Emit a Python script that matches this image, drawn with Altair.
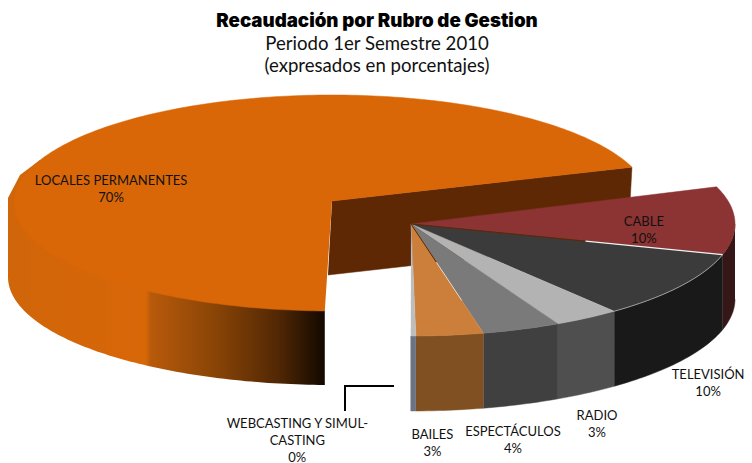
import math
import altair as alt
import pandas as pd

# ---- values (share of the pie, per cent) ----
CATEGORIES = ["LOCALES PERMANENTES", "CABLE", "TELEVISIÓN", "RADIO", "ESPECTÁCULOS", "BAILES", "WEBCASTING Y SIMUL-\nCASTING"]
VALUES = [69.25, 9.8, 9.8, 3.3, 3.9, 3.35, 0.25]
SHOWN = ["70%", "10%", "10%", "3%", "4%", "3%", "0%"]

# ---- styles ----
TOP_COLORS = ["#D96607", "#8C3333", "#3B3B3B", "#B3B3B3", "#7A7A7A", "#CC7F3A", "#BDBDBD"]
WALL_COLORS = [None, "#351717", "#191919", "#4F4F4F", "#404040", "#815022", "#6B7483"]
INNER_WALL = "#5F2805"
EDGE_DARK = "#5F2805"
EDGE_LIGHT = "#F2F2F2"
FONT = "Lato"

# ---- 3-D layout of the pie, in page pixels ----
START = -19.4
DEG = 3.6
ORANGE = dict(cx=332, cy=203, rx=318, ry=108)
ORANGE_BOTTOM = dict(cx=332, cy=277, rx=324, ry=108)
GROUP = dict(cx=411, cy=224, rx=324, ry=112)
DEPTH = 75
LINE = 17
LABEL_SHIFT = [(36.5, 50), (-91, 9.9), (27, 98), (10, 106), (-8.5, 111), (-17.5, 108.5), (-116, 105)]

def rim(e, t, dy=0):
    r = math.radians(t)
    return (e["cx"] + e["rx"] * math.cos(r), e["cy"] + e["ry"] * math.sin(r) + dy)

def arc(e, t0, t1, dy=0):
    n = max(2, int(abs(t1 - t0)) + 1)
    return [rim(e, t0 + (t1 - t0) * i / (n - 1), dy) for i in range(n)]

X = alt.X("x:Q", scale=alt.Scale(domain=[8, 744], nice=False, zero=False), axis=None)
Y = alt.Y("y:Q", scale=alt.Scale(domain=[463, 88], nice=False, zero=False), axis=None)

def frame(points):
    return pd.DataFrame({"x": [p[0] for p in points], "y": [p[1] for p in points], "i": range(len(points))})

def poly(points, fill, **kw):
    kw.setdefault("stroke", fill if isinstance(fill, str) else None)
    kw.setdefault("strokeWidth", 0.5)
    if kw["stroke"] is None:
        kw.pop("stroke")
        kw["strokeWidth"] = 0
    return alt.Chart(frame(points)).mark_line(fill=fill, interpolate="linear", **kw).encode(
        x=X, y=Y, order=alt.Order("i:Q"))

def edge(points, color, width):
    return alt.Chart(frame(points)).mark_line(color=color, strokeWidth=width, interpolate="linear").encode(
        x=X, y=Y, order=alt.Order("i:Q"))

def along(a, b, f0, f1):
    return [(a[0] + (b[0] - a[0]) * f, a[1] + (b[1] - a[1]) * f) for f in (f0, f1)]

# slice angles
sweeps = [v * DEG for v in VALUES]
group_starts = []
t = START
for s in sweeps[1:]:
    group_starts.append(t)
    t += s
orange_end = START - sweeps[0]           # going the other way round

layers = []

# inner wall of the large slice
tip = (ORANGE["cx"], ORANGE["cy"] - 2)
r_end = rim(ORANGE, START)
inner = [tip, r_end, (r_end[0] - 4, r_end[1] + 74), (tip[0] - 4, tip[1] + 74)]
layers.append(poly(inner, INNER_WALL))

# outer wall of the large slice
top_end = rim(ORANGE, orange_end + 360)
wall_x = top_end[0]
t_bottom = math.degrees(math.acos((wall_x - ORANGE_BOTTOM["cx"]) / ORANGE_BOTTOM["rx"]))
outer = [top_end] + arc(ORANGE_BOTTOM, t_bottom, 180) + [(8, 198), (20, 175), (40, 160)]
grad = alt.Gradient(gradient="linear", x1=0, x2=1, y1=0, y2=0, stops=[
    alt.GradientStop(color="#D06509", offset=0),
    alt.GradientStop(color="#D86708", offset=0.435),
    alt.GradientStop(color="#B85A0B", offset=0.45),
    alt.GradientStop(color="#8A4506", offset=0.65),
    alt.GradientStop(color="#532804", offset=0.85),
    alt.GradientStop(color="#120800", offset=1),
])
layers.append(poly(outer, grad))

# top of the large slice
orange_top = [tip] + arc(ORANGE, START, orange_end)
layers.append(poly(orange_top, TOP_COLORS[0]))

# walls of the front group
for i, s in list(enumerate(sweeps[1:], start=1)):
    t0 = group_starts[i - 1]
    t1 = t0 + s
    t0c = max(t0, 0)
    pts = arc(GROUP, t0c, t1) + arc(GROUP, t1, t0c, DEPTH)
    layers.append(poly(pts, WALL_COLORS[i]))

# tops of the front group
centre = (GROUP["cx"], GROUP["cy"])
for i, s in list(enumerate(sweeps[1:], start=1)):
    t0 = group_starts[i - 1]
    pts = [centre] + arc(GROUP, t0, t0 + s)
    layers.append(poly(pts, TOP_COLORS[i]))

# thin highlights and shadows along the slice edges
spoke_cable = rim(GROUP, group_starts[1])
spoke_bailes = rim(GROUP, group_starts[4])
layers.append(edge(along(centre, spoke_cable, 0.0, 0.56), EDGE_DARK, 1))
layers.append(edge(along(centre, spoke_cable, 0.56, 1.0), EDGE_LIGHT, 1.3))
layers.append(edge(along(centre, spoke_bailes, 0.0, 0.35), EDGE_DARK, 1))
layers.append(edge(along(centre, spoke_bailes, 0.35, 0.7), EDGE_LIGHT, 0.7))
layers.append(edge(arc(GROUP, group_starts[1], group_starts[2]), "#C8C8C8", 0.7))

# leader line of the near-zero slice
leader = pd.DataFrame({"x": [345, 345, 393], "y": [410, 386, 386], "i": [0, 1, 2]})
layers.append(alt.Chart(leader).mark_line(color="#000000", strokeWidth=2, strokeCap="square").encode(
    x=X, y=Y, order=alt.Order("i:Q")))

# labels
mids = [START - sweeps[0] / 2] + [g + s / 2 for g, s in zip(group_starts, sweeps[1:])]
rows = []
for k, (c, p, m, sh) in enumerate(zip(CATEGORIES, SHOWN, mids, LABEL_SHIFT)):
    e = ORANGE if k == 0 else GROUP
    a = rim(e, m)
    text = c + "\n" + p
    lines = text.count("\n")
    rows.append({"x": a[0] + sh[0], "y": a[1] + sh[1] - LINE * lines / 2, "t": text})
layers.append(alt.Chart(pd.DataFrame(rows)).mark_text(
    font=FONT, fontSize=13, lineBreak="\n", lineHeight=LINE, color="#111111", align="center", baseline="middle"
).encode(x=X, y=Y, text="t:N"))

chart = alt.layer(*layers).properties(
    width=736,
    height=375,
    padding={"left": 0, "right": 0, "top": 80, "bottom": 0},
    autosize="none",
    title=alt.TitleParams(
        text="Recaudación por Rubro de Gestion",
        subtitle=["Periodo 1er Semestre 2010", "(expresados en porcentajes)"],
        font="Inter", fontSize=18.7, fontWeight=900, color="#000000",
        subtitleFont=FONT, subtitleFontSize=18.6, subtitleFontWeight=400, subtitleColor="#111111",
        subtitleLineHeight=22, subtitlePadding=5, anchor="middle", offset=12, dx=1,
    ),
).configure_view(stroke=None)

chart.save("out.html", embed_options={"renderer": "svg", "actions": False})
